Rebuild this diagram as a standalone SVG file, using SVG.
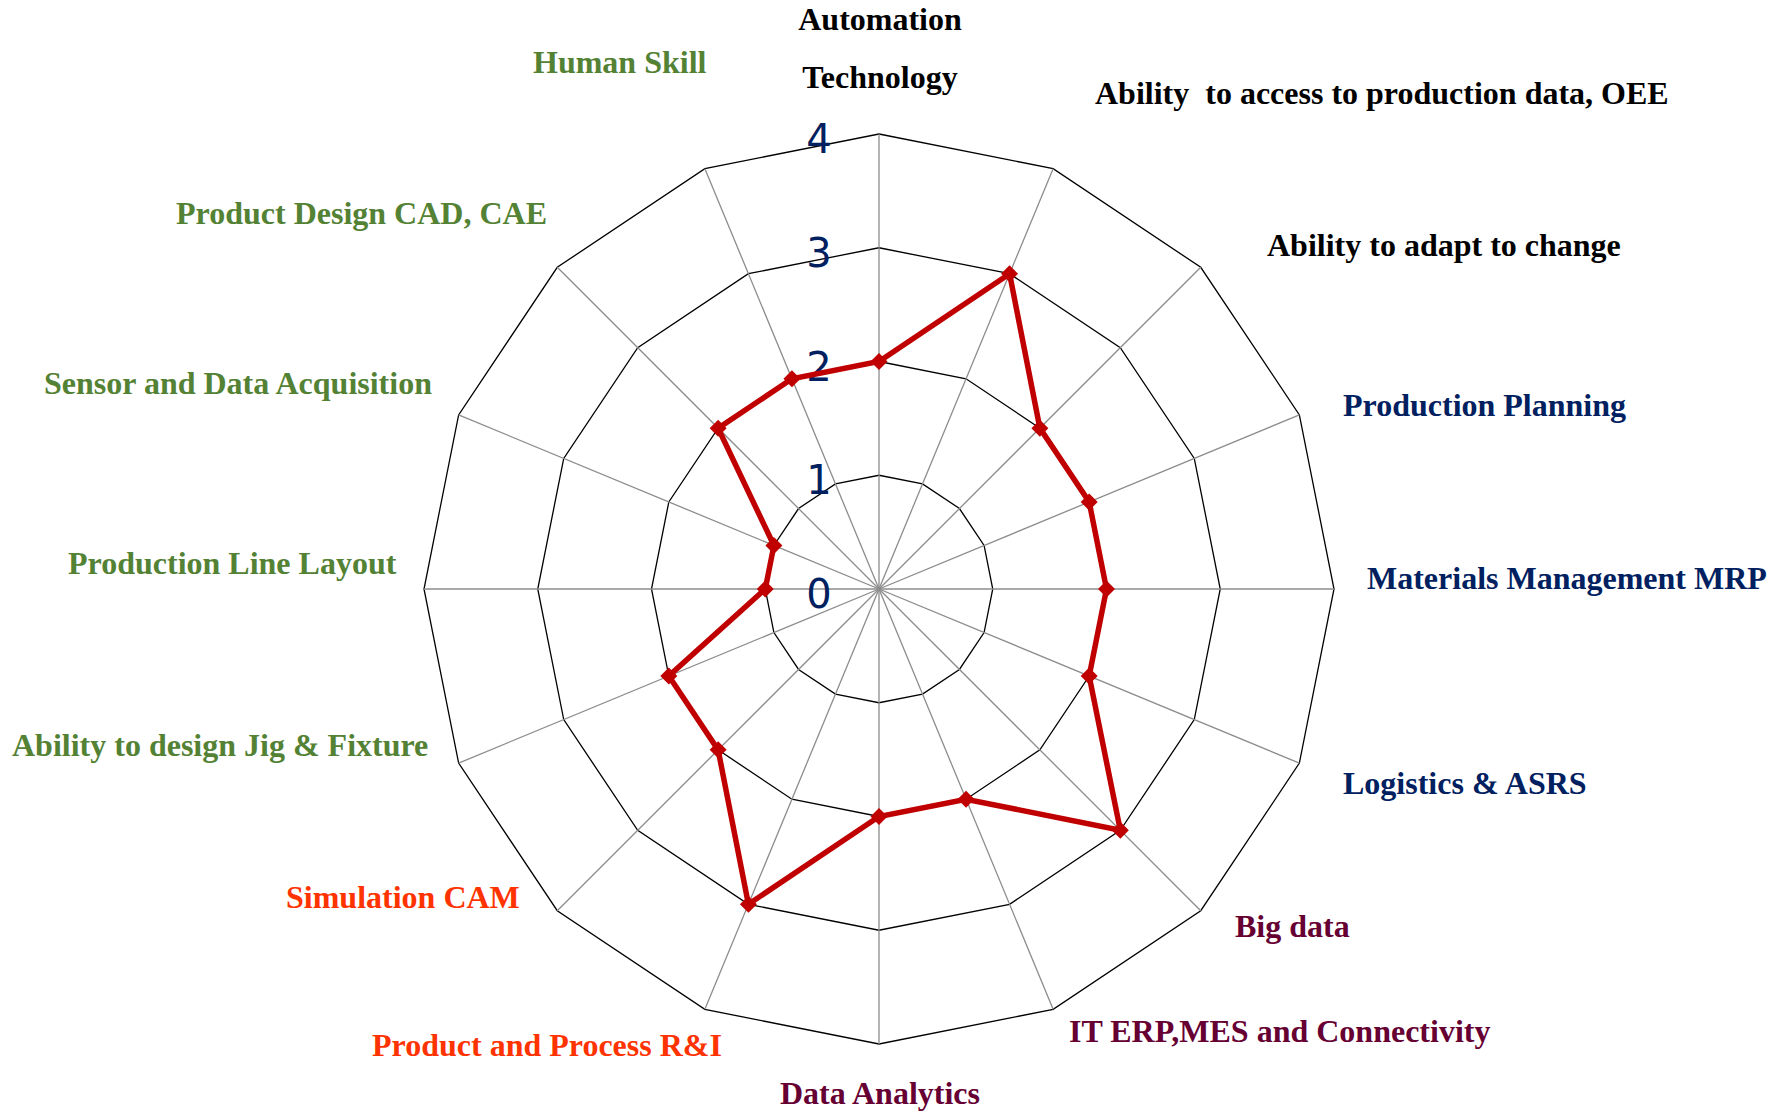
<svg xmlns="http://www.w3.org/2000/svg" xmlns:xlink="http://www.w3.org/1999/xlink" width="1783" height="1111" viewBox="0 0 1783 1111">
<style>
.web{fill:none;stroke:#000;stroke-width:1.3}
.axis{stroke:#8c8c8c;stroke-width:1.3}
.lbl{font-family:"Liberation Serif","Times New Roman",serif;font-weight:bold;font-size:32px}
.green{fill:#548235}.navy{fill:#002060}.black{fill:#000}.orange{fill:#ff3300}.maroon{fill:#660033}
.tick{font-family:"DejaVu Sans",Verdana,sans-serif;font-size:40px;fill:#002060;text-anchor:middle}
.series{fill:none;stroke:#c00000;stroke-width:5.5;stroke-linejoin:miter}
</style>
<defs>
<path id="dia" d="M0,-8.5 L8.5,0 L0,8.5 L-8.5,0 Z" fill="#c00000"/>
</defs>
<rect width="1783" height="1111" fill="#fff"/>
<g id="grid">
<polygon class="web" points="879,475.25 922.53,483.91 959.43,508.57 984.09,545.47 992.75,589 984.09,632.53 959.43,669.43 922.53,694.09 879,702.75 835.47,694.09 798.57,669.43 773.91,632.53 765.25,589 773.91,545.47 798.57,508.57 835.47,483.91"/>
<polygon class="web" points="879,361.5 966.06,378.82 1039.87,428.13 1089.18,501.94 1106.5,589 1089.18,676.06 1039.87,749.87 966.06,799.18 879,816.5 791.94,799.18 718.13,749.87 668.82,676.06 651.5,589 668.82,501.94 718.13,428.13 791.94,378.82"/>
<polygon class="web" points="879,247.75 1009.59,273.73 1120.3,347.7 1194.27,458.41 1220.25,589 1194.27,719.59 1120.3,830.3 1009.59,904.27 879,930.25 748.41,904.27 637.7,830.3 563.73,719.59 537.75,589 563.73,458.41 637.7,347.7 748.41,273.73"/>
<polygon class="web" points="879,134 1053.12,168.63 1200.73,267.27 1299.37,414.88 1334,589 1299.37,763.12 1200.73,910.73 1053.12,1009.37 879,1044 704.88,1009.37 557.27,910.73 458.63,763.12 424,589 458.63,414.88 557.27,267.27 704.88,168.63"/>
</g>
<g id="connectors">
<line class="axis" x1="879" y1="589" x2="879" y2="134"/>
<line class="axis" x1="879" y1="589" x2="1053.12" y2="168.63"/>
<line class="axis" x1="879" y1="589" x2="1200.73" y2="267.27"/>
<line class="axis" x1="879" y1="589" x2="1299.37" y2="414.88"/>
<line class="axis" x1="879" y1="589" x2="1334" y2="589"/>
<line class="axis" x1="879" y1="589" x2="1299.37" y2="763.12"/>
<line class="axis" x1="879" y1="589" x2="1200.73" y2="910.73"/>
<line class="axis" x1="879" y1="589" x2="1053.12" y2="1009.37"/>
<line class="axis" x1="879" y1="589" x2="879" y2="1044"/>
<line class="axis" x1="879" y1="589" x2="704.88" y2="1009.37"/>
<line class="axis" x1="879" y1="589" x2="557.27" y2="910.73"/>
<line class="axis" x1="879" y1="589" x2="458.63" y2="763.12"/>
<line class="axis" x1="879" y1="589" x2="424" y2="589"/>
<line class="axis" x1="879" y1="589" x2="458.63" y2="414.88"/>
<line class="axis" x1="879" y1="589" x2="557.27" y2="267.27"/>
<line class="axis" x1="879" y1="589" x2="704.88" y2="168.63"/>
</g>
<g id="ticks">
<text class="tick" x="819" y="608">0</text>
<text class="tick" x="819" y="494">1</text>
<text class="tick" x="819" y="381">2</text>
<text class="tick" x="819" y="267">3</text>
<text class="tick" x="819" y="153">4</text>
</g>
<g id="series">
<polygon class="series" points="879,361.5 1009.59,273.73 1039.87,428.13 1089.18,501.94 1106.5,589 1089.18,676.06 1120.3,830.3 966.06,799.18 879,816.5 748.41,904.27 718.13,749.87 668.82,676.06 765.25,589 773.91,545.47 718.13,428.13 791.94,378.82"/>
<use xlink:href="#dia" x="879" y="361.5"/>
<use xlink:href="#dia" x="1009.59" y="273.73"/>
<use xlink:href="#dia" x="1039.87" y="428.13"/>
<use xlink:href="#dia" x="1089.18" y="501.94"/>
<use xlink:href="#dia" x="1106.5" y="589"/>
<use xlink:href="#dia" x="1089.18" y="676.06"/>
<use xlink:href="#dia" x="1120.3" y="830.3"/>
<use xlink:href="#dia" x="966.06" y="799.18"/>
<use xlink:href="#dia" x="879" y="816.5"/>
<use xlink:href="#dia" x="748.41" y="904.27"/>
<use xlink:href="#dia" x="718.13" y="749.87"/>
<use xlink:href="#dia" x="668.82" y="676.06"/>
<use xlink:href="#dia" x="765.25" y="589"/>
<use xlink:href="#dia" x="773.91" y="545.47"/>
<use xlink:href="#dia" x="718.13" y="428.13"/>
<use xlink:href="#dia" x="791.94" y="378.82"/>
</g>
<g id="label-automation"><text class="lbl black" x="880" y="30" text-anchor="middle">Automation</text><text class="lbl black" x="880" y="88" text-anchor="middle">Technology</text></g>
<g id="label-access"><text class="lbl black" x="1095" y="104" xml:space="preserve">Ability  to access to production data, OEE</text></g>
<g id="label-adapt"><text class="lbl black" x="1267" y="256">Ability to adapt to change</text></g>
<g id="label-planning"><text class="lbl navy" x="1343" y="416">Production Planning</text></g>
<g id="label-mrp"><text class="lbl navy" x="1367" y="589">Materials Management MRP</text></g>
<g id="label-logistics"><text class="lbl navy" x="1343" y="794">Logistics &amp; ASRS</text></g>
<g id="label-bigdata"><text class="lbl maroon" x="1235" y="937">Big data</text></g>
<g id="label-it"><text class="lbl maroon" x="1069" y="1042">IT ERP,MES and Connectivity</text></g>
<g id="label-analytics"><text class="lbl maroon" x="880" y="1104" text-anchor="middle">Data Analytics</text></g>
<g id="label-rni"><text class="lbl orange" x="372" y="1056">Product and Process R&amp;I</text></g>
<g id="label-simulation"><text class="lbl orange" x="286" y="908">Simulation CAM</text></g>
<g id="label-jig"><text class="lbl green" x="12" y="756">Ability to design Jig &amp; Fixture</text></g>
<g id="label-layout"><text class="lbl green" x="68" y="574">Production Line Layout</text></g>
<g id="label-sensor"><text class="lbl green" x="44" y="394">Sensor and Data Acquisition</text></g>
<g id="label-design"><text class="lbl green" x="176" y="224">Product Design CAD, CAE</text></g>
<g id="label-human"><text class="lbl green" x="533" y="73">Human Skill</text></g>
</svg>
